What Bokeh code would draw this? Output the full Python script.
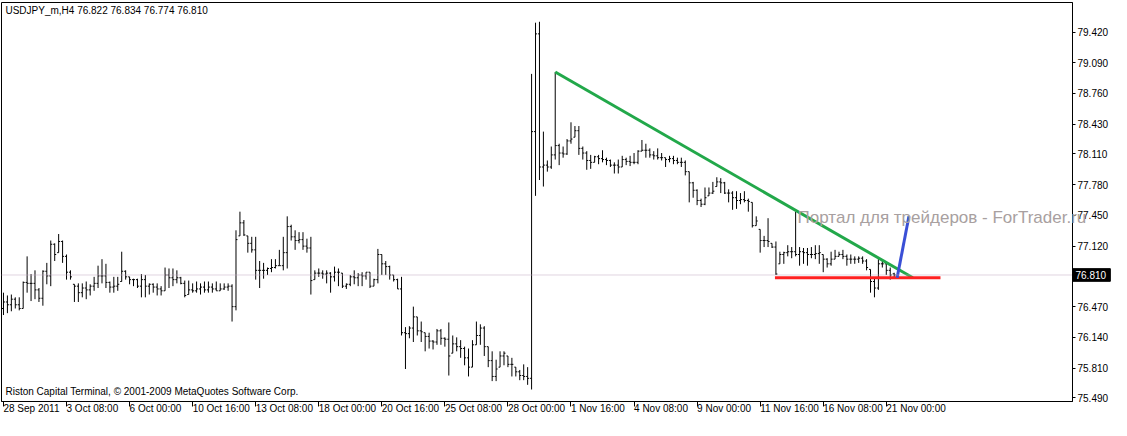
from bokeh.plotting import figure
from bokeh.models import Range1d, FixedTicker, Label, Span, PrintfTickFormatter
from bokeh.core.properties import value
from bokeh.embed import file_html
from bokeh.resources import INLINE

# ---------------- data (USDJPY_m, H4) ----------------
opens = [76.45, 76.52, 76.49, 76.55, 76.49, 76.45, 76.73, 76.72, 76.72, 76.65,
         76.56, 76.85, 76.80, 77.14, 77.05, 77.17, 77.01, 76.84, 76.71, 76.69,
         76.62, 76.67, 76.65, 76.69, 76.72, 76.80, 76.80, 76.73, 76.68, 76.69,
         76.74, 76.85, 76.79, 76.76, 76.76, 76.69, 76.76, 76.69, 76.71, 76.68,
         76.66, 76.64, 76.81, 76.78, 76.76, 76.78, 76.72, 76.60, 76.65, 76.64,
         76.66, 76.68, 76.65, 76.68, 76.66, 76.64, 76.66, 76.68, 76.69, 76.47,
         77.23, 77.37, 77.23, 77.15, 77.08, 76.86, 76.86, 76.86, 76.88, 76.89,
         76.91, 76.91, 77.05, 77.33, 77.22, 77.18, 77.19, 77.12, 77.10, 76.76,
         76.83, 76.83, 76.82, 76.83, 76.79, 76.84, 76.83, 76.69, 76.71, 76.79,
         76.78, 76.81, 76.80, 76.84, 76.69, 76.76, 77.03, 76.93, 76.90, 76.81,
         76.76, 76.66, 76.19, 76.18, 76.24, 76.36, 76.21, 76.19, 76.15, 76.10,
         76.09, 76.21, 76.13, 76.12, 75.97, 76.07, 76.04, 76.02, 75.92, 75.82,
         76.06, 76.16, 76.24, 76.04, 75.89, 75.72, 75.82, 75.94, 75.94, 75.85,
         75.82, 75.77, 75.73, 75.72, 75.70, 78.35, 79.40, 77.97, 77.99, 77.97,
         78.10, 78.20, 78.12, 78.11, 78.25, 78.29, 78.36, 78.17, 78.12, 78.04,
         78.02, 78.08, 78.06, 78.05, 78.04, 77.99, 77.99, 77.97, 78.05, 78.03,
         78.02, 78.02, 78.14, 78.15, 78.15, 78.10, 78.09, 78.07, 78.07, 78.05,
         78.06, 78.04, 78.02, 78.02, 77.92, 77.80, 77.72, 77.61, 77.57, 77.66,
         77.69, 77.76, 77.81, 77.80, 77.69, 77.69, 77.64, 77.61, 77.62, 77.61,
         77.59, 77.34, 77.30, 77.18, 77.18, 77.15, 77.11, 76.93, 77.03, 77.05,
         77.06, 77.06, 77.03, 77.06, 77.05, 77.03, 77.03, 77.04, 77.03, 76.98,
         76.93, 76.98, 77.01, 77.03, 77.01, 76.98, 76.98, 76.98, 76.99, 76.96,
         76.87, 76.74, 76.67, 76.93, 76.93, 76.86, 76.822]

highs = [76.62, 76.59, 76.60, 76.57, 76.57, 76.74, 77.01, 76.82, 76.86, 76.67,
         76.86, 76.94, 77.18, 77.15, 77.25, 77.18, 77.03, 76.86, 76.71, 76.72,
         76.72, 76.74, 76.71, 76.79, 76.91, 76.98, 76.93, 76.74, 76.79, 76.79,
         77.06, 76.86, 76.79, 76.77, 76.77, 76.82, 76.81, 76.72, 76.72, 76.72,
         76.69, 76.89, 76.88, 76.88, 76.86, 76.79, 76.75, 76.75, 76.72, 76.74,
         76.72, 76.74, 76.74, 76.72, 76.74, 76.72, 76.72, 76.72, 76.71, 77.29,
         77.49, 77.40, 77.23, 77.22, 77.22, 76.96, 76.94, 76.89, 76.98, 76.98,
         77.08, 77.22, 77.44, 77.35, 77.29, 77.27, 77.27, 77.20, 77.22, 76.86,
         76.88, 76.86, 76.86, 76.84, 76.90, 76.88, 76.83, 76.72, 76.81, 76.86,
         76.83, 76.84, 76.84, 76.84, 76.77, 77.09, 77.03, 76.96, 76.91, 76.81,
         76.77, 76.79, 76.25, 76.26, 76.47, 76.36, 76.31, 76.19, 76.19, 76.11,
         76.23, 76.23, 76.14, 76.30, 76.16, 76.14, 76.11, 76.04, 76.02, 76.11,
         76.31, 76.28, 76.26, 76.04, 75.99, 75.90, 75.99, 75.99, 75.94, 75.92,
         75.82, 75.79, 75.85, 75.82, 78.97, 79.52, 79.53, 78.35, 78.04, 78.19,
         78.99, 78.22, 78.19, 78.27, 78.45, 78.41, 78.41, 78.19, 78.14, 78.10,
         78.09, 78.10, 78.15, 78.07, 78.05, 78.02, 78.05, 78.09, 78.07, 78.09,
         78.12, 78.15, 78.26, 78.22, 78.17, 78.14, 78.17, 78.12, 78.07, 78.09,
         78.09, 78.07, 78.07, 78.04, 77.92, 77.81, 77.73, 77.63, 77.75, 77.75,
         77.81, 77.86, 77.85, 77.81, 77.73, 77.71, 77.71, 77.69, 77.71, 77.63,
         77.59, 77.44, 77.30, 77.23, 77.42, 77.15, 77.17, 77.06, 77.06, 77.13,
         77.11, 77.49, 77.11, 77.10, 77.10, 77.11, 77.13, 77.13, 77.03, 76.99,
         77.06, 77.08, 77.06, 77.08, 77.03, 77.03, 77.01, 77.01, 77.01, 76.98,
         76.87, 76.77, 76.98, 76.96, 76.93, 76.89, 76.834]

lows = [76.38, 76.40, 76.42, 76.45, 76.43, 76.45, 76.62, 76.53, 76.55, 76.52,
        76.48, 76.71, 76.69, 76.96, 77.05, 76.94, 76.76, 76.76, 76.52, 76.52,
        76.57, 76.55, 76.59, 76.64, 76.67, 76.72, 76.67, 76.62, 76.62, 76.64,
        76.74, 76.76, 76.71, 76.69, 76.67, 76.57, 76.57, 76.60, 76.62, 76.59,
        76.59, 76.64, 76.67, 76.69, 76.72, 76.71, 76.57, 76.60, 76.62, 76.62,
        76.60, 76.62, 76.62, 76.62, 76.64, 76.64, 76.65, 76.64, 76.31, 76.43,
        77.23, 77.23, 77.05, 77.05, 76.76, 76.67, 76.77, 76.81, 76.84, 76.88,
        76.91, 76.86, 76.88, 77.18, 77.08, 77.15, 77.08, 77.05, 76.60, 76.76,
        76.79, 76.77, 76.72, 76.62, 76.74, 76.69, 76.67, 76.66, 76.69, 76.71,
        76.69, 76.69, 76.76, 76.67, 76.69, 76.72, 76.81, 76.81, 76.76, 76.74,
        76.66, 76.16, 75.80, 76.13, 76.09, 76.16, 76.09, 75.99, 76.02, 76.01,
        76.06, 76.06, 76.04, 75.73, 75.97, 75.99, 75.92, 75.84, 75.72, 75.82,
        76.06, 76.06, 75.94, 75.82, 75.67, 75.67, 75.82, 75.84, 75.82, 75.72,
        75.72, 75.68, 75.68, 75.63, 75.58, 77.66, 77.83, 77.76, 77.92, 77.95,
        78.05, 77.99, 78.07, 78.10, 78.22, 78.29, 78.10, 78.05, 77.94, 77.95,
        78.02, 78.00, 78.02, 77.99, 77.97, 77.90, 77.90, 77.97, 77.99, 77.98,
        78.00, 78.00, 78.14, 78.07, 78.07, 78.05, 78.05, 78.04, 77.97, 78.02,
        78.00, 78.00, 77.97, 77.88, 77.59, 77.64, 77.56, 77.54, 77.56, 77.66,
        77.68, 77.76, 77.69, 77.68, 77.59, 77.51, 77.52, 77.57, 77.59, 77.49,
        77.32, 77.34, 77.05, 77.11, 77.11, 77.10, 76.81, 76.93, 76.93, 77.01,
        76.99, 77.01, 76.91, 76.93, 76.91, 76.99, 76.98, 76.93, 76.84, 76.89,
        76.91, 76.98, 77.01, 76.98, 76.91, 76.93, 76.93, 76.94, 76.93, 76.86,
        76.62, 76.57, 76.65, 76.89, 76.81, 76.76, 76.774]

closes = [76.52, 76.49, 76.55, 76.49, 76.45, 76.73, 76.72, 76.72, 76.65, 76.56,
          76.85, 76.80, 77.14, 77.03, 77.17, 77.01, 76.84, 76.79, 76.69, 76.62,
          76.67, 76.65, 76.69, 76.72, 76.80, 76.80, 76.73, 76.68, 76.69, 76.71,
          76.85, 76.79, 76.76, 76.76, 76.69, 76.76, 76.69, 76.71, 76.68, 76.66,
          76.64, 76.81, 76.78, 76.76, 76.78, 76.72, 76.59, 76.65, 76.64, 76.66,
          76.68, 76.65, 76.68, 76.66, 76.64, 76.66, 76.68, 76.69, 76.47, 77.19,
          77.37, 77.24, 77.15, 77.08, 76.86, 76.86, 76.86, 76.88, 76.89, 76.91,
          76.91, 77.05, 77.33, 77.22, 77.18, 77.19, 77.12, 77.10, 76.75, 76.83,
          76.83, 76.82, 76.83, 76.79, 76.84, 76.84, 76.69, 76.71, 76.79, 76.78,
          76.81, 76.80, 76.84, 76.69, 76.76, 77.03, 76.93, 76.90, 76.81, 76.76,
          76.66, 76.19, 76.18, 76.24, 76.36, 76.21, 76.20, 76.15, 76.10, 76.09,
          76.21, 76.13, 76.12, 75.94, 76.07, 76.04, 76.02, 75.92, 75.82, 76.06,
          76.16, 76.24, 76.04, 75.89, 75.72, 75.80, 75.94, 75.97, 75.85, 75.85,
          75.77, 75.73, 75.72, 75.70, 78.35, 79.40, 77.97, 77.99, 77.97, 78.10,
          78.20, 78.12, 78.11, 78.25, 78.27, 78.36, 78.17, 78.12, 78.04, 78.02,
          78.08, 78.06, 78.05, 78.04, 77.99, 77.99, 77.97, 78.05, 78.03, 78.02,
          78.02, 78.14, 78.15, 78.15, 78.10, 78.09, 78.07, 78.07, 78.05, 78.06,
          78.04, 78.02, 78.02, 77.92, 77.80, 77.72, 77.61, 77.57, 77.64, 77.69,
          77.71, 77.81, 77.80, 77.69, 77.69, 77.64, 77.61, 77.62, 77.61, 77.60,
          77.34, 77.39, 77.18, 77.18, 77.17, 77.11, 76.82, 77.03, 77.05, 77.06,
          77.06, 77.03, 77.06, 77.05, 77.03, 77.03, 77.04, 77.05, 76.98, 76.93,
          76.98, 77.01, 77.03, 77.01, 76.98, 76.98, 76.98, 76.99, 76.96, 76.89,
          76.74, 76.67, 76.93, 76.93, 76.86, 76.81, 76.810]

tick_bars = [0, 16, 32, 48, 64, 80, 96, 112, 128, 144, 160, 176, 192, 208, 224]
tick_labels = ["28 Sep 2011", "3 Oct 08:00", "6 Oct 00:00", "10 Oct 16:00",
               "13 Oct 08:00", "18 Oct 00:00", "20 Oct 16:00", "25 Oct 08:00",
               "28 Oct 00:00", "1 Nov 16:00", "4 Nov 08:00", "9 Nov 00:00",
               "11 Nov 16:00", "16 Nov 08:00", "21 Nov 00:00"]
price_ticks = [79.42, 79.09, 78.76, 78.43, 78.11, 77.78, 77.45, 77.12,
               76.47, 76.14, 75.81, 75.49]
last_price = 76.810

# drawn trend lines (bar index, price)
green_x = [140, 230.75]
green_y = [78.99, 76.78]
red_x = [195.75, 237.75]
red_y = [76.78, 76.78]
blue_x = [226.75, 229.75]
blue_y = [76.78, 77.44]

title_text = "USDJPY_m,H4  76.822 76.834 76.774 76.810"
footer_text = "Riston Capital Terminal, \u00a9 2001-2009 MetaQuotes Software Corp."
watermark_text = "\u041f\u043e\u0440\u0442\u0430\u043b \u0434\u043b\u044f \u0442\u0440\u0435\u0439\u0434\u0435\u0440\u043e\u0432 - ForTrader.ru"

# ---------------- figure ----------------
FONT = "Liberation Sans"
X_END = 271.25
p = figure(width=1111, frame_height=399, output_backend="svg", toolbar_location=None,
           x_range=Range1d(-0.5, X_END), y_range=Range1d(75.451, 79.737),
           y_axis_location="right", min_border_left=1, min_border_top=2,
           min_border_right=0, min_border_bottom=0)
p.background_fill_color = "white"
p.border_fill_color = "white"
p.outline_line_color = "black"
p.outline_line_width = 1
p.grid.visible = False

# current price dotted line
p.add_layout(Span(location=last_price, dimension="width", line_color="#c0a8c0",
                  line_dash="1 1", line_width=1))

xs = list(range(len(closes)))
p.segment(x0=xs, y0=lows, x1=xs, y1=highs, line_color="black", line_width=1)
p.segment(x0=[x - 0.38 for x in xs], y0=opens, x1=xs, y1=opens,
          line_color="black", line_width=1)
p.segment(x0=xs, y0=closes, x1=[x + 0.38 for x in xs], y1=closes,
          line_color="black", line_width=1)

p.line(green_x, green_y, line_color="#22a84a", line_width=3)
p.line(red_x, red_y, line_color="#ff2020", line_width=3)
p.line(blue_x, blue_y, line_color="#3a4fd6", line_width=3)

# axes
xa = p.xaxis[0]
xa.axis_label = None
xa.ticker = FixedTicker(ticks=tick_bars)
xa.major_label_overrides = {b: t for b, t in zip(tick_bars, tick_labels)}
xa.major_tick_in = 0
xa.major_tick_out = 5
xa.minor_tick_out = 0
xa.minor_tick_in = 0
xa.axis_line_color = "black"
xa.major_tick_line_color = "black"
xa.major_label_text_font = FONT
xa.major_label_text_font_size = "10px"
xa.major_label_text_color = "black"
xa.major_label_orientation = -0.000001
xa.major_label_standoff = 2

ya = p.yaxis[0]
ya.axis_label = None
ya.ticker = FixedTicker(ticks=price_ticks)
ya.formatter = PrintfTickFormatter(format="%.3f")
ya.major_tick_in = 0
ya.major_tick_out = 3
ya.minor_tick_out = 0
ya.minor_tick_in = 0
ya.axis_line_color = "black"
ya.major_tick_line_color = "black"
ya.major_label_text_font = FONT
ya.major_label_text_font_size = "10px"
ya.major_label_text_color = "black"
ya.major_label_standoff = 2

# texts
p.add_layout(Label(x=0.5, y=79.65, text=title_text, text_font=FONT,
                   text_font_size="10px", text_color="black", text_baseline="middle"))
p.add_layout(Label(x=0.5, y=75.563, text=footer_text, text_font=FONT,
                   text_font_size="10px", text_color="black", text_baseline="middle"))
p.text(x=[201.5], y=[77.425], text=[watermark_text], text_font=value(FONT),
       text_font_size="17px", text_color="#a8a0a0", text_baseline="middle",
       level="overlay")
# current price box on the price scale
p.quad(left=[X_END], right=[X_END + 9.6], bottom=[last_price - 0.068],
       top=[last_price + 0.068], fill_color="black", line_color="black",
       level="overlay")
p.text(x=[X_END], y=[last_price], x_offset=3, text=["%.3f" % last_price],
       text_font=value(FONT), text_font_size="10px", text_color="white",
       text_baseline="middle", level="overlay")

open("out.html", "w").write(file_html(p, INLINE))
